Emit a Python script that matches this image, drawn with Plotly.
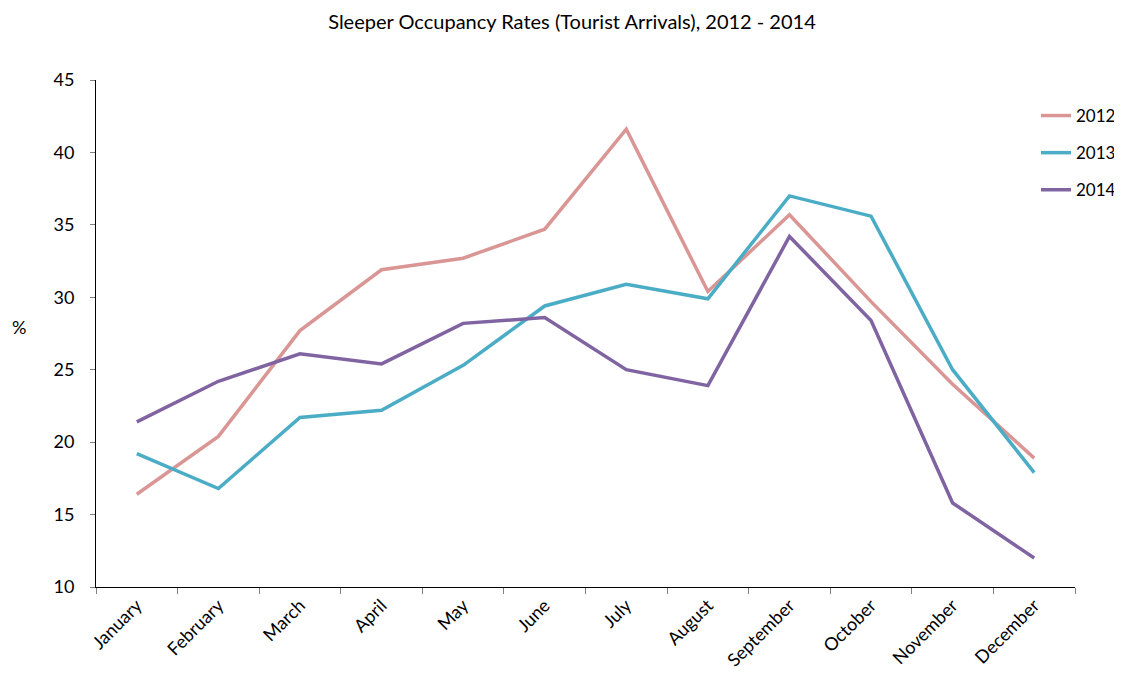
import plotly.graph_objects as go

months = ["January", "February", "March", "April", "May", "June", "July",
          "August", "September", "October", "November", "December"]
y2012 = [16.4, 20.4, 27.7, 31.9, 32.7, 34.7, 41.6, 30.4, 35.7, 29.7, 24.0, 18.9]
y2013 = [19.2, 16.8, 21.7, 22.2, 25.3, 29.4, 30.9, 29.9, 37.0, 35.6, 25.0, 17.9]
y2014 = [21.4, 24.2, 26.1, 25.4, 28.2, 28.6, 25.0, 23.9, 34.2, 28.4, 15.8, 12.0]
series_names = ["2012", "2013", "2014"]
colors = ["#D99694", "#4BACC6", "#8064A2"]

FONT = "Lato, 'Open Sans', sans-serif"

fig = go.Figure()
for name, ys, c in zip(series_names, [y2012, y2013, y2014], colors):
    fig.add_trace(go.Scatter(x=months, y=ys, mode="lines", name=name,
                             legendgroup=name,
                             line=dict(color=c, width=3.5)))

# page body has an 8px margin; compensate so the plot lands where the reference has it
OFF = 8
W, H = 1122 - OFF, 678 - OFF
L, R, T, B = 96 - OFF, 47, 80 - OFF, 91
PW, PH = W - L - R, H - T - B


def px(xp):
    return (xp - OFF - L) / PW


def py(yp):
    return 1 - (yp - OFF - T) / PH


fig.update_layout(
    width=W, height=H,
    margin=dict(l=L, r=R, t=T, b=B, autoexpand=False),
    paper_bgcolor="white", plot_bgcolor="white",
    font=dict(family=FONT, size=18, color="#000"),
    title=dict(text="Sleeper Occupancy Rates (Tourist Arrivals), 2012 - 2014",
               x=(572 - OFF) / W, xanchor="center", y=1 - (22 - OFF) / H,
               yanchor="middle", font=dict(size=20, family=FONT)),
    showlegend=True,
    legend=dict(x=px(1036), xanchor="left",
                y=py(98), yanchor="top",
                bgcolor="rgba(0,0,0,0)", font=dict(size=17, family=FONT),
                tracegroupgap=12),
    xaxis=dict(type="category", range=[-0.5, 11.5], showline=True,
               linecolor="#000", linewidth=1, ticks="outside", ticklen=6,
               tickcolor="#808080", tickson="boundaries", tickangle=-45,
               showgrid=False, zeroline=False, automargin=False,
               tickfont=dict(size=18, family=FONT)),
    yaxis=dict(range=[10, 45], dtick=5, tick0=10, showline=True,
               linecolor="#000", linewidth=1, ticks="outside", ticklen=5,
               tickcolor="#808080", showgrid=False, zeroline=False,
               automargin=False,
               tickfont=dict(size=18, family=FONT), ticklabelstandoff=12),
    annotations=[dict(text="%", x=px(19), y=py(327), xref="paper", yref="paper",
                      xanchor="center", yanchor="middle",
                      showarrow=False, font=dict(size=18, family=FONT))],
)

fig.write_html("out.html")
